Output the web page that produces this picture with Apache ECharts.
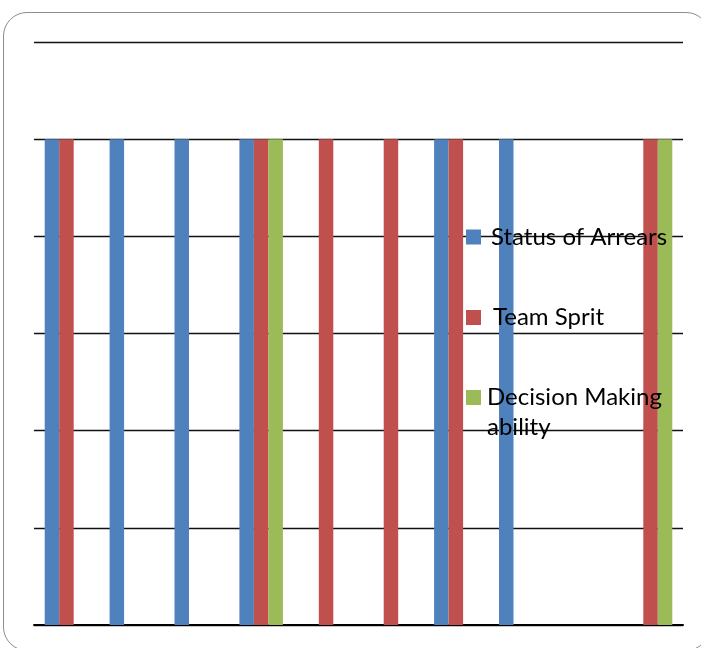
<!DOCTYPE html>
<html>
<head>
<meta charset="utf-8">
<script src="https://cdn.jsdelivr.net/npm/echarts@6/dist/echarts.min.js"></script>
<style>
  html, body { margin: 0; padding: 0; width: 701px; height: 648px; overflow: hidden; background: #fff; }
  #frame { position: absolute; left: 3px; top: 12px; width: 707px; height: 639px; box-sizing: border-box;
           border: 1.5px solid #8c8c8c; border-radius: 24px; }
  #chart { position: absolute; left: 0; top: 0; width: 701px; height: 648px; }
</style>
</head>
<body>
<div id="frame"></div>
<div id="chart"></div>
<script>
const categories = ['1', '2', '3', '4', '5', '6', '7', '8', '9', '10'];
const seriesNames = ['Status of Arrears', 'Team Sprit', 'Decision Making ability'];
const statusOfArrears = [5, 5, 5, 5, null, null, 5, 5, null, null];
const teamSprit = [5, null, null, 5, 5, 5, 5, null, null, 5];
const decisionMaking = [null, null, null, 5, null, null, null, null, null, 5];
const yTicks = { min: 0, max: 6, interval: 1 };

const colors = ['#4F81BD', '#C0504D', '#9BBB59'];
const font = 'Lato';
const baseText = { fontFamily: font, fontSize: 24, color: '#000', lineHeight: 30 };

function legendFor(name, top, padLeft, formatter) {
  const ts = Object.assign({}, baseText, { padding: [0, 0, 0, padLeft] });
  const lg = {
    data: [{ name: name, textStyle: ts }],
    left: 466, top: top, padding: 0,
    orient: 'vertical', icon: 'rect', itemWidth: 15, itemHeight: 15,
    selectedMode: false,
    textStyle: ts
  };
  if (formatter) lg.formatter = formatter;
  return lg;
}

const chart = echarts.init(document.getElementById('chart'), null, { renderer: 'canvas' });
chart.setOption({
  backgroundColor: 'transparent',
  animation: false,
  color: colors,
  grid: { left: 34, right: 18, top: 42, bottom: 23, containLabel: false },
  xAxis: {
    type: 'category', data: categories,
    axisLine: { show: true, lineStyle: { color: '#000', width: 2 } },
    axisTick: { show: false }, axisLabel: { show: false }, splitLine: { show: false }
  },
  yAxis: {
    type: 'value', min: yTicks.min, max: yTicks.max, interval: yTicks.interval,
    axisLine: { show: false }, axisTick: { show: false }, axisLabel: { show: false },
    splitLine: { show: true, lineStyle: { color: '#111', width: 1.3 } }
  },
  legend: [
    legendFor(seriesNames[0], 222, 5),
    legendFor(seriesNames[1], 302.5, 7),
    // leading empty line keeps the first text line level with the marker, the rest wraps below
    legendFor(seriesNames[2], 352.5, 1, function () { return '\nDecision Making\nability'; })
  ],
  series: [
    { name: seriesNames[0], type: 'bar', data: statusOfArrears, barWidth: 14.5, barGap: '0%' },
    { name: seriesNames[1], type: 'bar', data: teamSprit, barWidth: 14.5, barGap: '0%' },
    { name: seriesNames[2], type: 'bar', data: decisionMaking, barWidth: 14.5, barGap: '0%' }
  ]
});
</script>
</body>
</html>
